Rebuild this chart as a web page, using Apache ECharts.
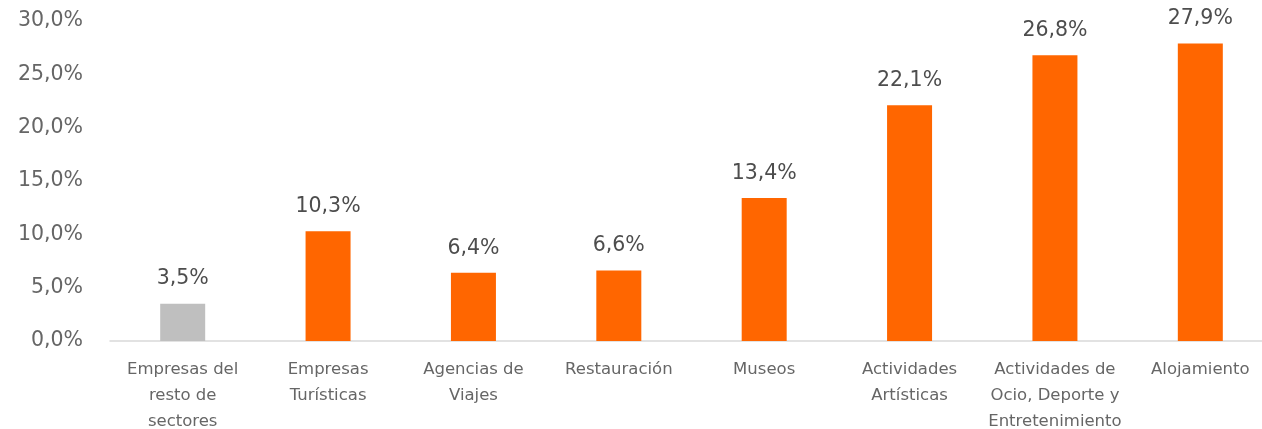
<!DOCTYPE html>
<html>
<head>
<meta charset="utf-8">
<script src="https://cdn.jsdelivr.net/npm/echarts@6/dist/echarts.min.js"></script>
<style>
    html, body { margin: 0; padding: 0; background: #fff; }
    #main { width: 1262px; height: 429px; }
</style>
</head>
<body>
<div id="main"></div>
<script>
    var categories = [
        'Empresas del\nresto de\nsectores',
        'Empresas\nTurísticas',
        'Agencias de\nViajes',
        'Restauración',
        'Museos',
        'Actividades\nArtísticas',
        'Actividades de\nOcio, Deporte y\nEntretenimiento',
        'Alojamiento'
    ];
    var values = [3.5, 10.3, 6.4, 6.6, 13.4, 22.1, 26.8, 27.9];
    var barColors = ['#BFBFBF', '#FF6600', '#FF6600', '#FF6600', '#FF6600', '#FF6600', '#FF6600', '#FF6600'];

    function pct(v) {
        return v.toFixed(1).replace('.', ',') + '%';
    }

    var seriesData = values.map(function (v, i) {
        return { value: v, itemStyle: { color: barColors[i] } };
    });

    var option = {
        animation: false,
        textStyle: { fontFamily: 'DejaVu Sans' },
        grid: {
            left: 110,
            width: 1163,
            top: 21,
            bottom: 88,
            outerBoundsMode: 'none',
            containLabel: false
        },
        xAxis: {
            type: 'category',
            data: categories,
            axisLine: { lineStyle: { color: '#D9D9D9', width: 1.5 } },
            axisTick: { show: false },
            axisLabel: {
                interval: 0,
                color: '#666666',
                fontSize: 16.5,
                lineHeight: 26,
                margin: 16
            }
        },
        yAxis: {
            type: 'value',
            min: 0,
            max: 30,
            interval: 5,
            splitLine: { show: false },
            axisLine: { show: false },
            axisTick: { show: false },
            axisLabel: {
                color: '#666666',
                fontSize: 20.5,
                margin: 27,
                formatter: function (v) { return pct(v); }
            }
        },
        series: [
            {
                type: 'bar',
                data: seriesData,
                barWidth: 45,
                label: {
                    show: true,
                    position: 'top',
                    distance: 14,
                    color: '#4D4D4D',
                    fontSize: 20.5,
                    formatter: function (p) { return pct(p.value); }
                }
            }
        ]
    };
    var myChart = echarts.init(document.getElementById('main'));
    myChart.setOption(option);
</script>
</body>
</html>
